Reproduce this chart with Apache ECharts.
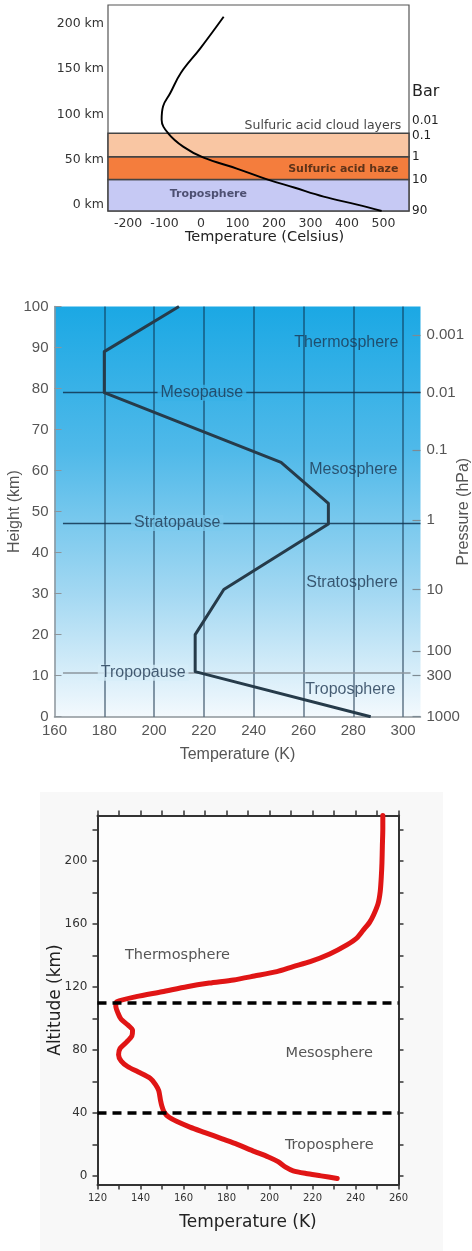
<!DOCTYPE html>
<html>
<head>
<meta charset="utf-8">
<script src="https://cdn.jsdelivr.net/npm/echarts@6/dist/echarts.min.js"></script>
<style>
  html, body { margin: 0; padding: 0; background: #ffffff; }
  #c { width: 472px; height: 1251px; }
</style>
</head>
<body>
<div id="c"></div>
<script>
// ---- Venus: temperature (°C) against altitude (km) ----
const venusTemp = [495, 428, 336, 255, 181, 98, 7, -48, -90, -108, -104, -85, -55, -2, 62];
const venusAlt  = [-7, 0, 9, 19, 28, 40, 52, 64, 79, 94, 109, 123, 146, 173, 208];
const venusLayerNames = ['Troposphere', 'Sulfuric acid haze', 'Sulfuric acid cloud layers'];
const venusLayerBase  = [-7, 28, 53];
const venusLayerTop   = [28, 53, 79];
const venusKmTicks    = [0, 50, 100, 150, 200];
const venusTempTicks  = [-200, -100, 0, 100, 200, 300, 400, 500];
const venusBarLabels  = ['90', '10', '1', '0.1', '0.01'];
const venusBarAlt     = [-7, 28, 53, 76, 93];

// ---- Earth: standard atmosphere, temperature (K) against height (km) ----
const earthTemp = [287, 216.5, 216.5, 228, 270, 270, 251, 180, 180, 210];
const earthAlt  = [0, 11, 20, 31, 47, 52, 62, 79, 89, 100];
const earthTempTicks   = [160, 180, 200, 220, 240, 260, 280, 300];
const earthGridTemps   = [180, 200, 220, 240, 260, 280, 300];
const earthPressureLabels = ['1000', '300', '100', '10', '1', '0.1', '0.01', '0.001'];
const earthPressureAlt    = [0, 10, 16, 31, 48, 65, 79, 93];
const earthPauseNames = ['Tropopause', 'Stratopause', 'Mesopause'];
const earthPauseAlt   = [10.7, 47.2, 79];
const earthLayerNames = ['Troposphere', 'Stratosphere', 'Mesosphere', 'Thermosphere'];

// ---- Titan: temperature (K) against altitude (km) ----
const titanTemp = [231.5, 224, 217, 211, 207.5, 204, 199.5, 192, 185, 178, 170, 163, 157, 153, 151,
                   150, 149.3, 148.5, 147, 144.5, 139, 134, 131, 129.8, 130.5, 133.5, 136, 136.3, 134,
                   131, 129.5, 128.5, 129, 138, 150, 161.6, 172, 183.3, 193, 203.4, 211, 218.9, 228,
                   236, 240.5, 243.7, 246.5, 248.4, 250.5, 251.5, 252, 252.3, 252.5, 252.7, 252.7];
const titanAlt  = [-1.7, 0, 1.5, 3.2, 5.5, 9, 12, 16, 20, 23.5, 27.5, 31, 34.5, 37.5, 40.5,
                   44, 48, 54, 58, 62, 66, 69.5, 73, 77, 81, 85, 89, 92.5, 96,
                   99.5, 103.5, 108, 110.7, 113.9, 117, 120.2, 122.5, 124.5, 127, 129.8, 133, 136.1, 141,
                   146.8, 151, 156.3, 161, 165.8, 173, 180.7, 190, 198.7, 210, 220.5, 229];
const titanTempTicks  = [120, 140, 160, 180, 200, 220, 240, 260];
const titanTempMinor  = [120, 130, 140, 150, 160, 170, 180, 190, 200, 210, 220, 230, 240, 250, 260];
const titanAltTicks   = [0, 40, 80, 120, 160, 200];
const titanAltMinor   = [0, 20, 40, 60, 80, 100, 120, 140, 160, 180, 200, 220];
const titanBoundaryAlt = [40, 110];
const titanLayerNames = ['Troposphere', 'Mesosphere', 'Thermosphere'];

const DV = 'DejaVu Sans';
const LS = 'Liberation Sans';

const pairs = (xs, ys) => xs.map((x, i) => [x, ys[i]]);
const lookup = (vals, labels) => v => {
  const i = vals.findIndex(a => Math.abs(a - v) < 1e-6);
  return i < 0 ? '' : labels[i];
};

// sky gradient behind the Earth panel, top to bottom
const skyStops = [[0, [27, 168, 228]], [0.35, [79, 185, 233]], [0.7, [163, 216, 242]], [1, [243, 249, 253]]];
function skyAt(frac) {
  for (let i = 1; i < skyStops.length; i++) {
    const [f1, c1] = skyStops[i];
    const [f0, c0] = skyStops[i - 1];
    if (frac <= f1) {
      const t = (frac - f0) / (f1 - f0);
      const c = c0.map((v, k) => Math.round(v + (c1[k] - v) * t));
      return 'rgb(' + c.join(',') + ')';
    }
  }
  return 'rgb(243,249,253)';
}
const skyGradient = new echarts.graphic.LinearGradient(0, 0, 0, 1,
  skyStops.map(([o, c]) => ({ offset: o, color: 'rgb(' + c.join(',') + ')' })));

const venusBandColors = ['#c6c9f4', '#f47d3d', '#f9c6a3'];

const chart = echarts.init(document.getElementById('c'), null, { renderer: 'canvas' });

const option = {
  animation: false,
  backgroundColor: '#ffffff',
  graphic: [
    { type: 'rect', z: -100, silent: true,
      shape: { x: 40, y: 792, width: 403, height: 459 },
      style: { fill: '#f8f8f8' } }
  ],
  grid: [
    { left: 108, top: 5, width: 301, height: 206, show: true, containLabel: false, outerBoundsMode: 'none',
      backgroundColor: '#ffffff', borderColor: '#555555', borderWidth: 1.2 },
    { left: 54.5, top: 306.5, width: 366, height: 410.2, show: true, containLabel: false, outerBoundsMode: 'none',
      backgroundColor: skyGradient, borderWidth: 0 },
    { left: 97.5, top: 815.5, width: 301, height: 369, show: true, containLabel: false, outerBoundsMode: 'none',
      backgroundColor: '#fdfdfd', borderWidth: 0 }
  ],
  xAxis: [
    { gridIndex: 0, type: 'value', min: -255, max: 570,
      axisLine: { show: false, onZero: false }, axisTick: { show: false }, splitLine: { show: false },
      axisLabel: { customValues: venusTempTicks, fontFamily: DV, fontSize: 12.5, color: '#333', margin: 6 },
      name: 'Temperature (Celsius)', nameLocation: 'middle', nameGap: 19, nameMoveOverlap: false,
      nameTextStyle: { fontFamily: DV, fontSize: 14.5, color: '#222', padding: [0, 0, 0, 12] } },
    { gridIndex: 1, type: 'value', min: 160, max: 307,
      axisLine: { show: true, onZero: false, lineStyle: { color: '#8d959b', width: 1.5 } },
      axisTick: { show: false }, splitLine: { show: false },
      axisLabel: { customValues: earthTempTicks, fontFamily: LS, fontSize: 15, color: '#555', margin: 7 },
      name: 'Temperature (K)', nameLocation: 'middle', nameGap: 30, nameMoveOverlap: false,
      nameTextStyle: { fontFamily: LS, fontSize: 16, color: '#555' } },
    { gridIndex: 2, type: 'value', min: 120, max: 260, position: 'bottom',
      axisLine: { show: true, onZero: false, lineStyle: { color: '#333', width: 2 } },
      axisTick: { show: true, customValues: titanTempMinor, length: 5, lineStyle: { color: '#333', width: 1.5 } },
      splitLine: { show: false },
      axisLabel: { customValues: titanTempTicks, fontFamily: DV, fontSize: 10, color: '#333', margin: 9 },
      name: 'Temperature (K)', nameLocation: 'middle', nameGap: 30, nameMoveOverlap: false,
      nameTextStyle: { fontFamily: DV, fontSize: 17, color: '#222' } },
    { gridIndex: 2, type: 'value', min: 120, max: 260, position: 'top',
      axisLine: { show: true, onZero: false, lineStyle: { color: '#333', width: 2 } },
      axisTick: { show: true, customValues: titanTempMinor, length: 5, lineStyle: { color: '#333', width: 1.5 } },
      splitLine: { show: false }, axisLabel: { show: false } }
  ],
  yAxis: [
    { gridIndex: 0, type: 'value', min: -7, max: 221,
      axisLine: { show: false, onZero: false }, axisTick: { show: false }, splitLine: { show: false },
      axisLabel: { customValues: venusKmTicks, formatter: v => v + ' km',
                   fontFamily: DV, fontSize: 12.5, color: '#333', margin: 4 } },
    { gridIndex: 0, type: 'value', position: 'right', min: -7, max: 221,
      axisLine: { show: false, onZero: false }, axisTick: { show: false }, splitLine: { show: false },
      axisLabel: { customValues: venusBarAlt.concat([125]),
                   formatter: v => v === 125 ? '{big|Bar}' : lookup(venusBarAlt, venusBarLabels)(v),
                   fontFamily: DV, fontSize: 12, color: '#222', margin: 3,
                   rich: { big: { fontFamily: DV, fontSize: 16, color: '#222' } } } },
    { gridIndex: 1, type: 'value', min: 0, max: 100, interval: 10,
      axisLine: { show: true, onZero: false, lineStyle: { color: '#8d959b', width: 1.5 } },
      axisTick: { show: true, inside: true, length: 7, lineStyle: { color: '#8d959b' } },
      splitLine: { show: false },
      axisLabel: { fontFamily: LS, fontSize: 15, color: '#555', margin: 6 },
      name: 'Height (km)', nameLocation: 'middle', nameGap: 31.5, nameMoveOverlap: false,
      nameTextStyle: { fontFamily: LS, fontSize: 16, color: '#555' } },
    { gridIndex: 1, type: 'value', position: 'right', min: 0, max: 100,
      axisLine: { show: false, onZero: false },
      axisTick: { show: true, inside: true, customValues: earthPressureAlt, length: 8,
                  lineStyle: { color: '#7d8a93', width: 1.2 } },
      splitLine: { show: false },
      axisLabel: { customValues: earthPressureAlt, formatter: lookup(earthPressureAlt, earthPressureLabels),
                   fontFamily: LS, fontSize: 15, color: '#555', margin: 6 },
      name: 'Pressure (hPa)', nameLocation: 'middle', nameGap: 35.5, nameMoveOverlap: false,
      nameTextStyle: { fontFamily: LS, fontSize: 16, color: '#555' } },
    { gridIndex: 2, type: 'value', min: -5.5, max: 229, position: 'left',
      axisLine: { show: true, onZero: false, lineStyle: { color: '#333', width: 2 } },
      axisTick: { show: true, customValues: titanAltMinor, length: 5, lineStyle: { color: '#333', width: 1.5 } },
      splitLine: { show: false },
      axisLabel: { customValues: titanAltTicks, fontFamily: DV, fontSize: 12, color: '#333', margin: 10 },
      name: 'Altitude (km)', nameLocation: 'middle', nameGap: 33, nameMoveOverlap: false,
      nameTextStyle: { fontFamily: DV, fontSize: 17, color: '#222' } },
    { gridIndex: 2, type: 'value', min: -5.5, max: 229, position: 'right',
      axisLine: { show: true, onZero: false, lineStyle: { color: '#333', width: 2 } },
      axisTick: { show: true, customValues: titanAltMinor, length: 5, lineStyle: { color: '#333', width: 1.5 } },
      splitLine: { show: false }, axisLabel: { show: false } }
  ],
  series: [
    // Venus: layer bands and temperature curve
    { type: 'line', xAxisIndex: 0, yAxisIndex: 0, z: 3, silent: true,
      data: pairs(venusTemp, venusAlt), smooth: 0.4,
      symbol: 'none', lineStyle: { color: '#000', width: 1.9 },
      markArea: { silent: true, z: 1,
        data: venusLayerNames.map((n, i) => [
          { yAxis: venusLayerBase[i],
            itemStyle: { color: venusBandColors[i], borderColor: '#444', borderWidth: 1.5 } },
          { yAxis: venusLayerTop[i] }
        ]) } },
    { type: 'scatter', xAxisIndex: 0, yAxisIndex: 0, symbolSize: 0, silent: true, z: 4,
      label: { show: true, formatter: '{b}', fontFamily: DV, color: '#111' },
      data: [
        { name: venusLayerNames[2], value: [549, 87],
          label: { position: 'left', distance: 0, fontSize: 12.5 } },
        { name: venusLayerNames[1], value: [541, 39.5],
          label: { position: 'left', distance: 0, fontSize: 11, fontWeight: 'bold', color: '#3a2010' } },
        { name: venusLayerNames[0], value: [20, 11.5],
          label: { position: 'inside', fontSize: 11, fontWeight: 'bold', color: '#2e3150' } }
      ] },

    // Earth: grid lines, pause levels and temperature profile
    { type: 'line', xAxisIndex: 1, yAxisIndex: 2, data: [], silent: true,
      markLine: { silent: true, z: 1, symbol: 'none', label: { show: false },
        data: earthGridTemps.map(t => ({ xAxis: t,
          lineStyle: { color: 'rgba(12,40,66,0.62)', width: 1.5, type: 'solid' } }))
          .concat(earthPauseAlt.map((a, i) => [
            { coord: [163.4, a],
              lineStyle: { color: i === 0 ? 'rgba(140,150,158,0.75)' : 'rgba(18,52,80,0.85)',
                           width: i === 0 ? 2 : 1.3, type: 'solid' } },
            { coord: [i === 0 ? 303 : 307, a] }
          ])) } },
    { type: 'line', xAxisIndex: 1, yAxisIndex: 2, z: 3, silent: true,
      data: pairs(earthTemp, earthAlt), symbol: 'none',
      lineStyle: { color: '#263b4a', width: 3, join: 'round' } },
    { type: 'scatter', xAxisIndex: 1, yAxisIndex: 2, symbolSize: 0, silent: true, z: 4,
      label: { show: true, position: 'inside', formatter: '{b}', fontFamily: LS, fontSize: 16, color: '#1d3650' },
      data: [
        { name: earthLayerNames[0], value: [278.8, 6.5] },
        { name: earthLayerNames[1], value: [279.5, 32.6] },
        { name: earthLayerNames[2], value: [280, 60.2] },
        { name: earthLayerNames[3], value: [277.2, 91.1] }
      ].concat([
        { name: earthPauseNames[0], value: [195.6, earthPauseAlt[0]] },
        { name: earthPauseNames[1], value: [209.3, earthPauseAlt[1]] },
        { name: earthPauseNames[2], value: [219.2, earthPauseAlt[2]] }
      ].map(d => Object.assign(d, { label: { backgroundColor: skyAt((100 - d.value[1]) / 100),
                                             padding: [0, 3] } }))) },

    // Titan: layer boundaries and temperature profile
    { type: 'line', xAxisIndex: 2, yAxisIndex: 4, z: 3, silent: true,
      data: pairs(titanTemp, titanAlt), smooth: 0.25, symbol: 'none',
      lineStyle: { color: '#e01515', width: 5, cap: 'round', join: 'round' },
      markLine: { silent: true, symbol: 'none', label: { show: false },
        lineStyle: { color: '#000', width: 3.5, type: [9, 6] },
        data: titanBoundaryAlt.map(a => ({ yAxis: a })) } },
    { type: 'scatter', xAxisIndex: 2, yAxisIndex: 4, symbolSize: 0, silent: true, z: 4,
      label: { show: true, position: 'inside', formatter: '{b}', fontFamily: DV, fontSize: 14.5, color: '#2a2a2a' },
      data: [
        { name: titanLayerNames[0], value: [227.8, 19.5] },
        { name: titanLayerNames[1], value: [227.8, 78] },
        { name: titanLayerNames[2], value: [157.2, 140.4] }
      ] }
  ]
};

chart.setOption(option);
</script>
</body>
</html>
